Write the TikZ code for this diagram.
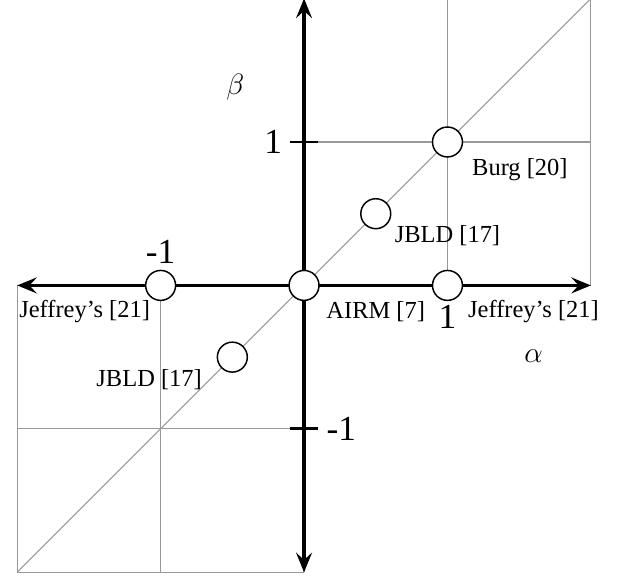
\documentclass[tikz,border=0pt]{standalone}
\usepackage{fontspec}
\setmainfont{Liberation Serif}
\usetikzlibrary{positioning,arrows.meta}

\begin{document}
\begin{tikzpicture}[x=2.06cm, y=2.06cm, font=\normalsize,
  gridline/.style={black!40, line width=0.45pt},
  axis/.style={line width=1.3pt, {Stealth[length=8pt, width=6.5pt, inset=3pt]}-{Stealth[length=8pt, width=6.5pt, inset=3pt]}},
  ticks/.style={line width=1.1pt},
  pt/.style={circle, draw, fill=white, line width=0.6pt, minimum size=0.43cm, inner sep=0pt},
  num/.style={font=\Large}]
\useasboundingbox (-2.12,-2.02) rectangle (2.21,1.99);
% grid in the two quadrants
\draw[gridline, step=2.06cm] (-2,-2) grid (0,0);
\draw[gridline, step=2.06cm] (0,0) grid (2,2);
\draw[gridline] (-2,-2) -- (2,2);
% axes
\draw[axis] (-2,0) -- (2,0);
\draw[axis] (0,-2) -- (0,2);
\draw[ticks] (-0.1,1) -- (0.1,1);
\draw[ticks] (-0.1,-1) -- (0.1,-1);
\node[num] (ytop) at (-0.215,1) {1};
\node[num] (ybot) at (0.26,-1) {-1};
\node (beta) at (-0.48,1.38) {\large$\beta$};
\node (alpha) at (1.6,-0.495) {\large$\alpha$};
% divergences
\node[pt] (airm) at (0,0) {};
\node[pt] (jefr) at (1,0) {};
\node[pt] (jefl) at (-1,0) {};
\node[pt] (burg) at (1,1) {};
\node[pt] (jbldu) at (0.5,0.5) {};
\node[pt] (jbldl) at (-0.5,-0.5) {};
\node[num, above=-1pt of jefl] (xl) {-1};
\node[num, below=-2pt of jefr] (xr) {1};
\node (tairm) at (0.5,-0.18) {AIRM [7]};
\node (tjefl) at (-1.53,-0.18) {Jeffrey's [21]};
\node (tjefr) at (1.6,-0.18) {Jeffrey's [21]};
\node (tburg) at (1.505,0.81) {Burg [20]};
\node (tjbldu) at (1.0,0.35) {JBLD [17]};
\node (tjbldl) at (-1.08,-0.655) {JBLD [17]};
\end{tikzpicture}
\end{document}
